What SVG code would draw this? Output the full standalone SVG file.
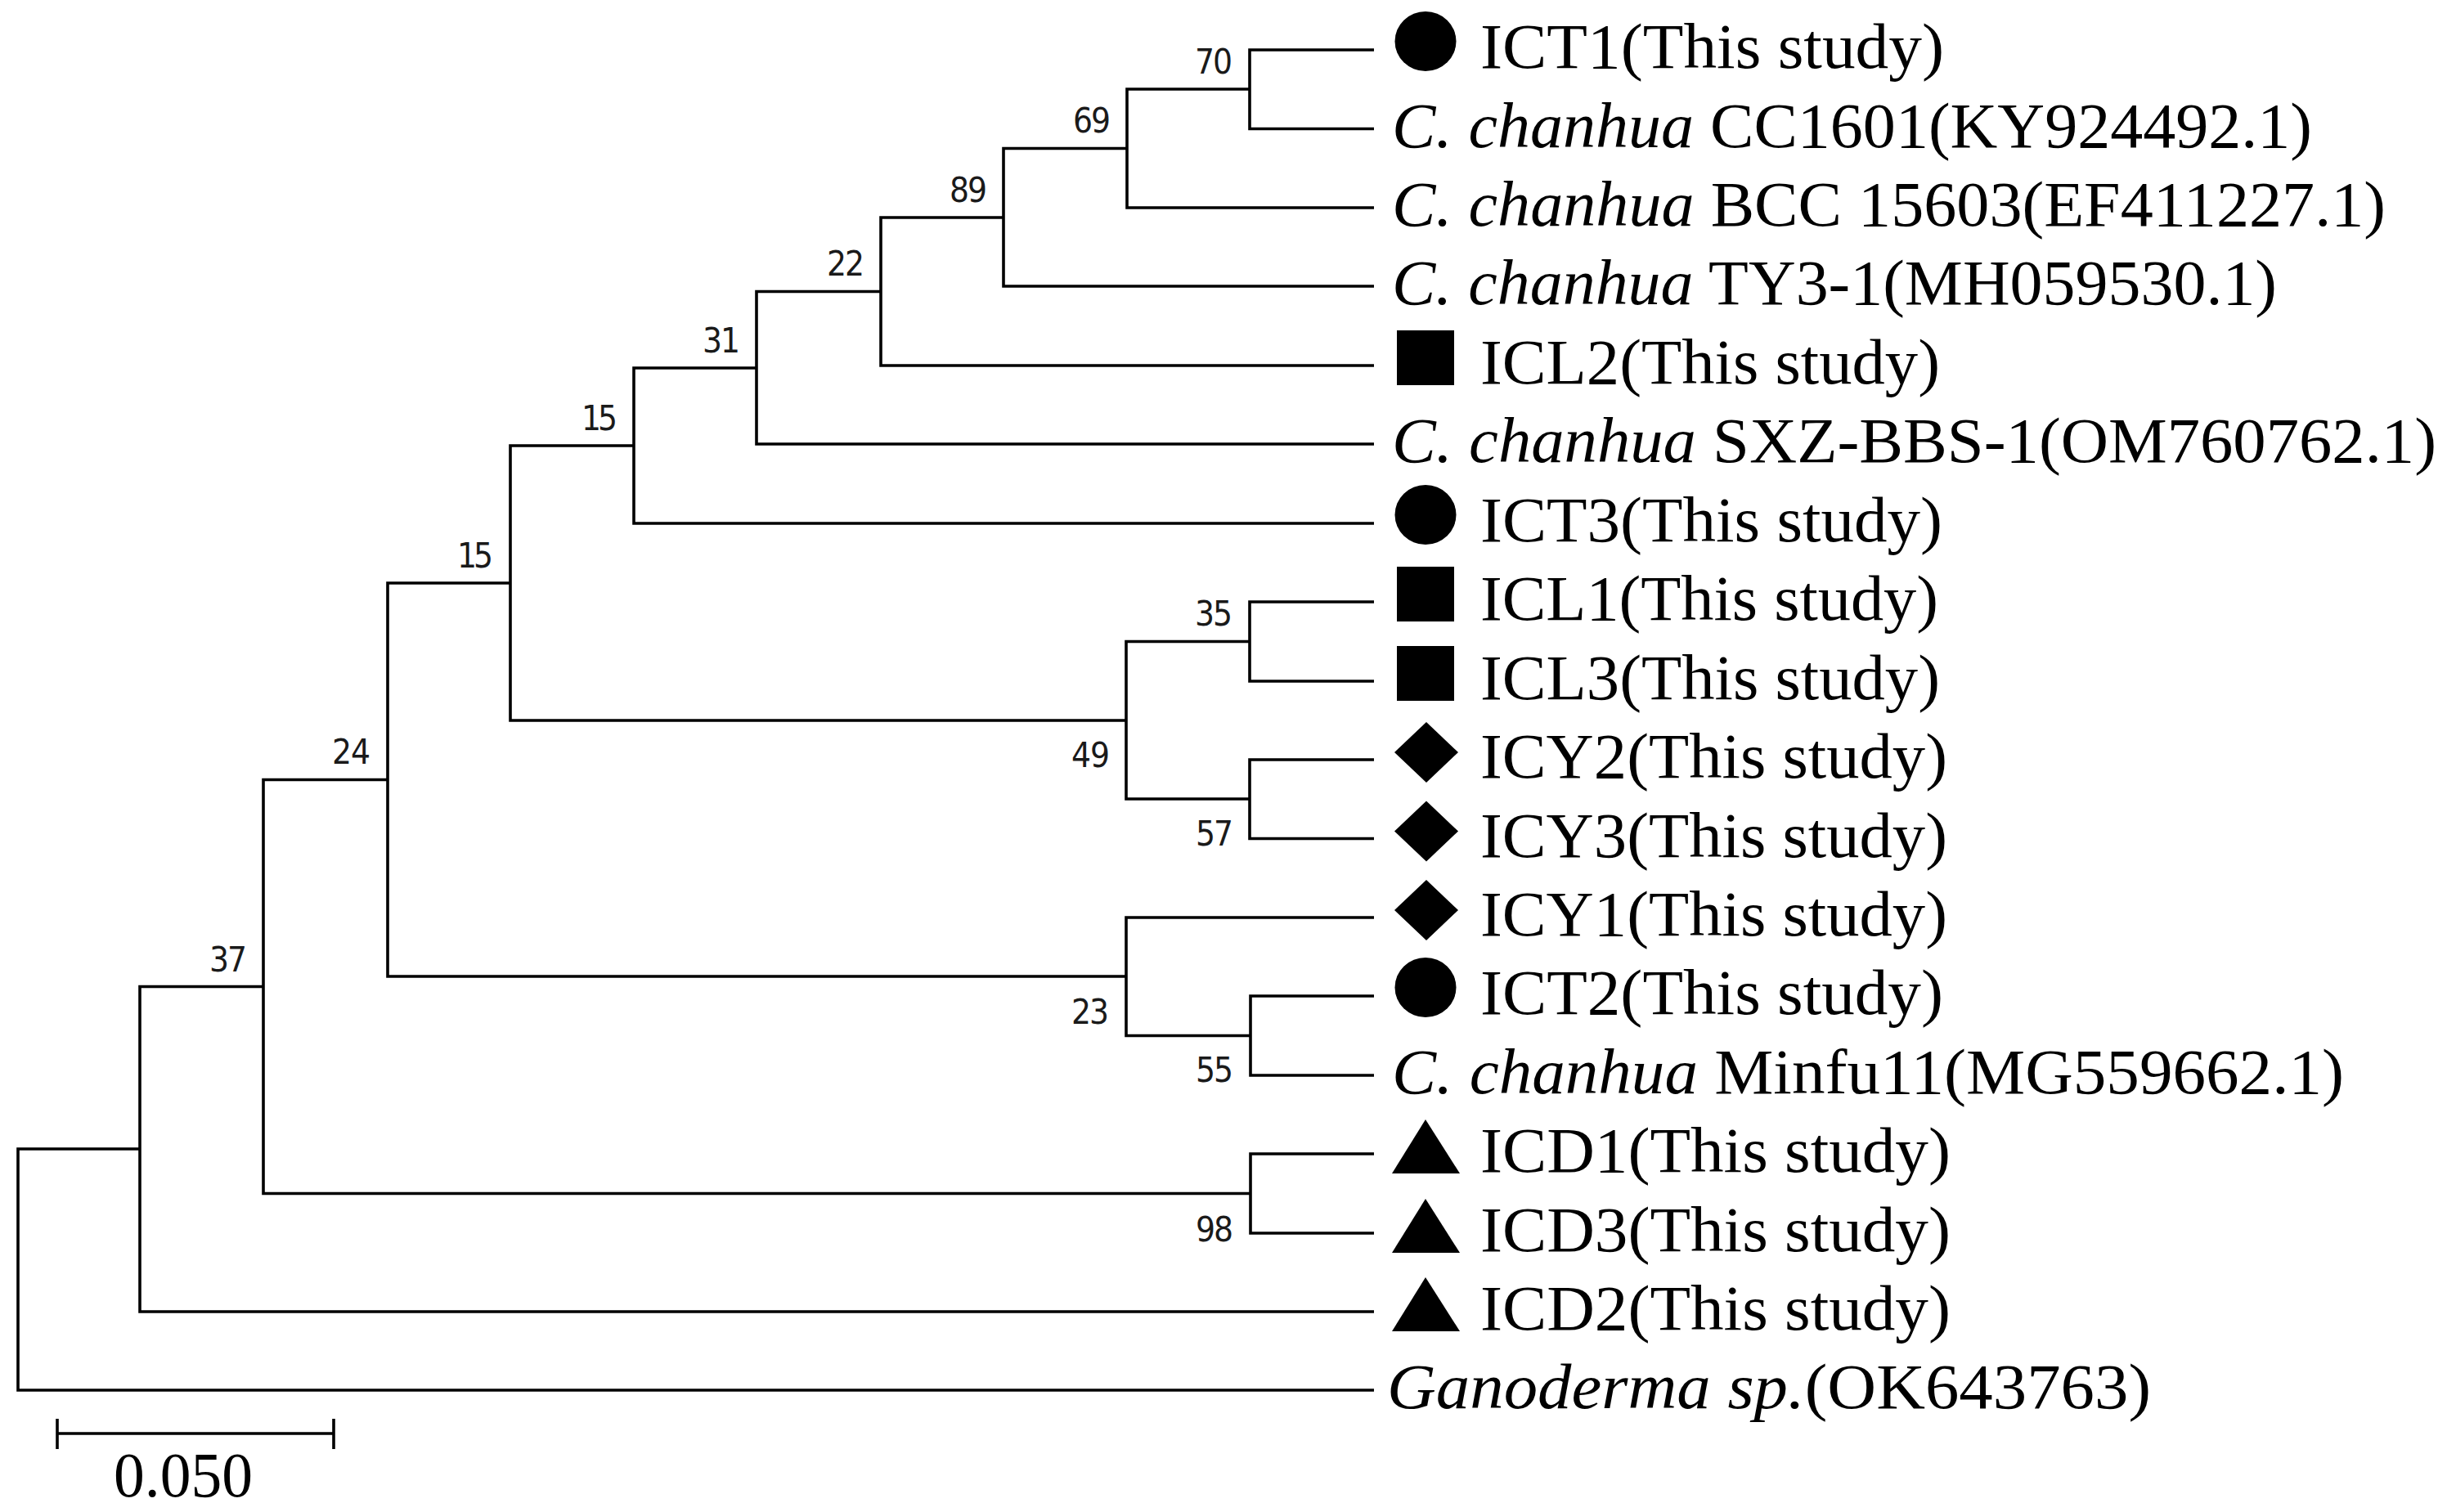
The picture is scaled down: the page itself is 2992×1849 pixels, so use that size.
<svg xmlns="http://www.w3.org/2000/svg" width="2992" height="1849" viewBox="0 0 2992 1849">
<style>
.br{fill:none;stroke:#000;stroke-width:3.6;stroke-linejoin:miter}
.bs{font-family:"DejaVu Sans Condensed","DejaVu Sans",sans-serif;font-stretch:condensed;font-size:42px;fill:#1a1a1a;text-anchor:end}
.lb{font-family:"Liberation Serif","Times New Roman",serif;font-size:78px;fill:#000}
.it{font-style:italic}
.sym{fill:#000}
</style>
<rect width="2992" height="1849" fill="#fff"/>
<g id="connectors">
<path class="br" d="M1680 61 H1528 V157.5 H1680"/>
<path class="br" d="M1528 109 H1378 V254 H1680"/>
<path class="br" d="M1378 181.5 H1227 V350 H1680"/>
<path class="br" d="M1227 266 H1077 V447 H1680"/>
<path class="br" d="M1077 356.5 H925 V543 H1680"/>
<path class="br" d="M925 450 H775 V640 H1680"/>
<path class="br" d="M775 545 H624 V881 H1377"/>
<path class="br" d="M1528 784.5 H1377 V977 H1528"/>
<path class="br" d="M1680 736 H1528 V833 H1680"/>
<path class="br" d="M1680 929 H1528 V1025.5 H1680"/>
<path class="br" d="M624 713 H474 V1194 H1377"/>
<path class="br" d="M1680 1122 H1377 V1266.5 H1529"/>
<path class="br" d="M1680 1218 H1529 V1315 H1680"/>
<path class="br" d="M474 953.5 H322 V1459.5 H1529"/>
<path class="br" d="M1680 1411 H1529 V1508 H1680"/>
<path class="br" d="M322 1206.5 H171 V1604 H1680"/>
<path class="br" d="M171 1405 H22 V1700 H1680"/>
</g>
<g id="bootstrap">
<text class="bs" x="1507" y="90" textLength="46">70</text>
<text class="bs" x="1358" y="162" textLength="46">69</text>
<text class="bs" x="1207" y="247" textLength="46">89</text>
<text class="bs" x="1057" y="337" textLength="46">22</text>
<text class="bs" x="905" y="431" textLength="46">31</text>
<text class="bs" x="755" y="526" textLength="44">15</text>
<text class="bs" x="603" y="694" textLength="44">15</text>
<text class="bs" x="453" y="934" textLength="47">24</text>
<text class="bs" x="302" y="1188" textLength="46">37</text>
<text class="bs" x="1507" y="765" textLength="46">35</text>
<text class="bs" x="1357" y="938" textLength="47">49</text>
<text class="bs" x="1508" y="1034" textLength="46">57</text>
<text class="bs" x="1356" y="1252" textLength="46">23</text>
<text class="bs" x="1508" y="1323" textLength="46">55</text>
<text class="bs" x="1508" y="1518" textLength="46">98</text>
</g>
<g id="leaf-ICT1"><ellipse class="sym" cx="1743" cy="50.5" rx="37.5" ry="36.5"/><text class="lb" x="1810" y="83" textLength="567" lengthAdjust="spacingAndGlyphs">ICT1(This study)</text></g>
<g id="leaf-CC1601"><text class="lb" x="1702" y="179.5" textLength="1125" lengthAdjust="spacingAndGlyphs"><tspan class="it">C. chanhua</tspan> CC1601(KY924492.1)</text></g>
<g id="leaf-BCC15603"><text class="lb" x="1702" y="276" textLength="1215" lengthAdjust="spacingAndGlyphs"><tspan class="it">C. chanhua</tspan> BCC 15603(EF411227.1)</text></g>
<g id="leaf-TY3-1"><text class="lb" x="1702" y="372" textLength="1082" lengthAdjust="spacingAndGlyphs"><tspan class="it">C. chanhua</tspan> TY3-1(MH059530.1)</text></g>
<g id="leaf-ICL2"><rect class="sym" x="1708" y="404" width="70" height="67"/><text class="lb" x="1810" y="469" textLength="562" lengthAdjust="spacingAndGlyphs">ICL2(This study)</text></g>
<g id="leaf-SXZ-BBS-1"><text class="lb" x="1702" y="565" textLength="1277" lengthAdjust="spacingAndGlyphs"><tspan class="it">C. chanhua</tspan> SXZ-BBS-1(OM760762.1)</text></g>
<g id="leaf-ICT3"><ellipse class="sym" cx="1743" cy="629.5" rx="37.5" ry="36.5"/><text class="lb" x="1810" y="662" textLength="565" lengthAdjust="spacingAndGlyphs">ICT3(This study)</text></g>
<g id="leaf-ICL1"><rect class="sym" x="1708" y="693" width="70" height="67"/><text class="lb" x="1810" y="758" textLength="560" lengthAdjust="spacingAndGlyphs">ICL1(This study)</text></g>
<g id="leaf-ICL3"><rect class="sym" x="1708" y="790" width="70" height="67"/><text class="lb" x="1810" y="855" textLength="562" lengthAdjust="spacingAndGlyphs">ICL3(This study)</text></g>
<g id="leaf-ICY2"><polygon class="sym" points="1744,883 1783,920 1744,957 1705,920"/><text class="lb" x="1810" y="951" textLength="571" lengthAdjust="spacingAndGlyphs">ICY2(This study)</text></g>
<g id="leaf-ICY3"><polygon class="sym" points="1744,979.5 1783,1016.5 1744,1053.5 1705,1016.5"/><text class="lb" x="1810" y="1047.5" textLength="571" lengthAdjust="spacingAndGlyphs">ICY3(This study)</text></g>
<g id="leaf-ICY1"><polygon class="sym" points="1744,1076 1783,1113 1744,1150 1705,1113"/><text class="lb" x="1810" y="1144" textLength="571" lengthAdjust="spacingAndGlyphs">ICY1(This study)</text></g>
<g id="leaf-ICT2"><ellipse class="sym" cx="1743" cy="1207.5" rx="37.5" ry="36.5"/><text class="lb" x="1810" y="1240" textLength="566" lengthAdjust="spacingAndGlyphs">ICT2(This study)</text></g>
<g id="leaf-Minfu11"><text class="lb" x="1702" y="1337" textLength="1164" lengthAdjust="spacingAndGlyphs"><tspan class="it">C. chanhua</tspan> Minfu11(MG559662.1)</text></g>
<g id="leaf-ICD1"><polygon class="sym" points="1743,1369 1785,1435 1702,1435"/><text class="lb" x="1810" y="1433" textLength="575" lengthAdjust="spacingAndGlyphs">ICD1(This study)</text></g>
<g id="leaf-ICD3"><polygon class="sym" points="1743,1466 1785,1532 1702,1532"/><text class="lb" x="1810" y="1530" textLength="575" lengthAdjust="spacingAndGlyphs">ICD3(This study)</text></g>
<g id="leaf-ICD2"><polygon class="sym" points="1743,1562 1785,1628 1702,1628"/><text class="lb" x="1810" y="1626" textLength="575" lengthAdjust="spacingAndGlyphs">ICD2(This study)</text></g>
<g id="leaf-Ganoderma"><text class="lb" x="1696" y="1722" textLength="934" lengthAdjust="spacingAndGlyphs"><tspan class="it">Ganoderma sp.</tspan>(OK643763)</text></g>
<g id="scale-bar">
<path class="br" d="M70 1753 H408 M70 1735 V1772 M408 1735 V1772"/>
<text class="lb" x="139" y="1830" font-size="74" textLength="170" lengthAdjust="spacingAndGlyphs">0.050</text>
</g>
</svg>
